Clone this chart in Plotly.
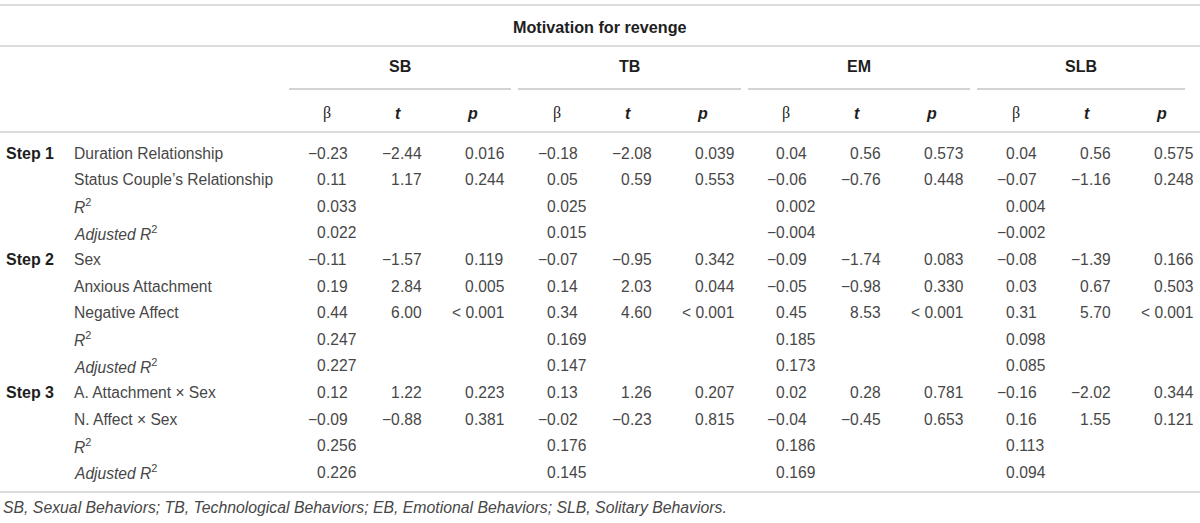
import plotly.graph_objects as go

# table content
title = "Motivation for revenge"
outcomes = ["SB", "TB", "EM", "SLB"]
stat_heads = ["β", "<b><i>t</i></b>", "<b><i>p</i></b>"]
steps = ["Step 1", "Step 2", "Step 3"]
step_predictors = [
    ["Duration Relationship", "Status Couple’s Relationship"],
    ["Sex", "Anxious Attachment", "Negative Affect"],
    ["A. Attachment × Sex", "N. Affect × Sex"],
]

sb_beta = [-0.23, 0.11, -0.11, 0.19, 0.44, 0.12, -0.09]
sb_t = [-2.44, 1.17, -1.57, 2.84, 6.00, 1.22, -0.88]
sb_p = ["0.016", "0.244", "0.119", "0.005", "< 0.001", "0.223", "0.381"]
sb_r2 = [0.033, 0.247, 0.256]
sb_adj = [0.022, 0.227, 0.226]

tb_beta = [-0.18, 0.05, -0.07, 0.14, 0.34, 0.13, -0.02]
tb_t = [-2.08, 0.59, -0.95, 2.03, 4.60, 1.26, -0.23]
tb_p = ["0.039", "0.553", "0.342", "0.044", "< 0.001", "0.207", "0.815"]
tb_r2 = [0.025, 0.169, 0.176]
tb_adj = [0.015, 0.147, 0.145]

em_beta = [0.04, -0.06, -0.09, -0.05, 0.45, 0.02, -0.04]
em_t = [0.56, -0.76, -1.74, -0.98, 8.53, 0.28, -0.45]
em_p = ["0.573", "0.448", "0.083", "0.330", "< 0.001", "0.781", "0.653"]
em_r2 = [0.002, 0.185, 0.186]
em_adj = [-0.004, 0.173, 0.169]

slb_beta = [0.04, -0.07, -0.08, 0.03, 0.31, -0.16, 0.16]
slb_t = [0.56, -1.16, -1.39, 0.67, 5.70, -2.02, 1.55]
slb_p = ["0.575", "0.248", "0.166", "0.503", "< 0.001", "0.344", "0.121"]
slb_r2 = [0.004, 0.098, 0.113]
slb_adj = [-0.002, 0.085, 0.094]

footnote = ("SB, Sexual Behaviors; TB, Technological Behaviors; "
            "EB, Emotional Behaviors; SLB, Solitary Behaviors.")

groups = [
    (sb_beta, sb_t, sb_p, sb_r2, sb_adj),
    (tb_beta, tb_t, tb_p, tb_r2, tb_adj),
    (em_beta, em_t, em_p, em_r2, em_adj),
    (slb_beta, slb_t, slb_p, slb_r2, slb_adj),
]

W, H = 1200, 523
FONT = "Liberation Sans, Arial, sans-serif"
TXT = "#474747"
HEAD = "#1e1e1e"
SIZE = 15.6

def fmt(v, nd):
    return f"{v:.{nd}f}".replace("-", "−")

def ann(text, x, y, anchor="left", size=SIZE, color=TXT, family=FONT):
    return dict(text=text, x=x, y=y, xref="x", yref="y", showarrow=False,
                xanchor=anchor, yanchor="middle", borderpad=0, borderwidth=0,
                font=dict(family=family, size=size, color=color))

annotations = []
shapes = []

def decimal_cell(s, xd, y):
    # align on the decimal point
    i = s.index(".")
    annotations.append(ann(s[:i], xd, y, "right"))
    annotations.append(ann(s[i:], xd, y, "left"))

# header
annotations.append(ann("<b>" + title + "</b>", W / 2, 27, "center", size=16.2, color=HEAD))

beta_right = [348, 578, 807, 1037]
group_lines = [(289, 511), (518, 741), (748, 970), (977, 1185)]
digit = SIZE * 0.556
dot = SIZE * 0.278

for g, name in enumerate(outcomes):
    x0, x1 = group_lines[g]
    annotations.append(ann("<b>" + name + "</b>", (x0 + x1) / 2, 66, "center", size=16, color=HEAD))
    shapes.append(dict(type="line", xref="x", yref="y", x0=x0, x1=x1, y0=89, y1=89,
                       line=dict(color="#a8a8a8", width=1)))
    br = beta_right[g]
    col_center = [br - 21, br + 74 - 24, br + 156 - 32]
    for k, h in enumerate(stat_heads):
        fam = "Liberation Serif, Times New Roman, serif" if k == 0 else FONT
        annotations.append(ann(h, col_center[k], 113, "center", size=16, color=HEAD, family=fam))

# body rows
rows = []
pi = 0
for s, preds in enumerate(step_predictors):
    for j, pname in enumerate(preds):
        rows.append(("pred", s, j == 0, pname, pi))
        pi += 1
    rows.append(("r2", s, False, "<i>R</i><sup>2</sup>", None))
    rows.append(("adj", s, False, "<i>Adjusted R</i><sup>2</sup>", None))

y0 = 153
pitch = 26.6
for r, (kind, s, first, label, idx) in enumerate(rows):
    y = y0 + r * pitch
    if first:
        annotations.append(ann("<b>" + steps[s] + "</b>", 6, y, "left", size=16, color=HEAD))
    annotations.append(ann(label, 74, y, "left"))
    for g, (beta, tval, pval, r2, adj) in enumerate(groups):
        br = beta_right[g]
        xd_b = br - 2 * digit - dot
        xd_t = br + 74 - 2 * digit - dot
        xd_p = br + 156 - 3 * digit - dot
        if kind == "pred":
            decimal_cell(fmt(beta[idx], 2), xd_b, y)
            decimal_cell(fmt(tval[idx], 2), xd_t, y)
            decimal_cell(pval[idx], xd_p, y)
        elif kind == "r2":
            decimal_cell(fmt(r2[s], 3), xd_b, y)
        else:
            decimal_cell(fmt(adj[s], 3), xd_b, y)

# rules
for yl in [5, 46, 132, 492]:
    shapes.append(dict(type="line", xref="x", yref="y", x0=0, x1=W, y0=yl, y1=yl,
                       line=dict(color="#dcdcdc", width=2)))

annotations.append(ann("<i>" + footnote + "</i>", 3, 507, "left", size=15.8))

fig = go.Figure(go.Scatter(x=[0, W], y=[0, H], mode="markers",
                           marker=dict(opacity=0), hoverinfo="skip", showlegend=False))
fig.update_layout(
    width=W, height=H,
    margin=dict(l=0, r=0, t=0, b=0),
    paper_bgcolor="white", plot_bgcolor="white",
    xaxis=dict(range=[0, W], visible=False, fixedrange=True),
    yaxis=dict(range=[H, 0], visible=False, fixedrange=True),
    annotations=annotations,
    shapes=shapes,
)
fig.write_html("out.html", config={"displayModeBar": False},
               post_script="document.body.style.margin='0';")
